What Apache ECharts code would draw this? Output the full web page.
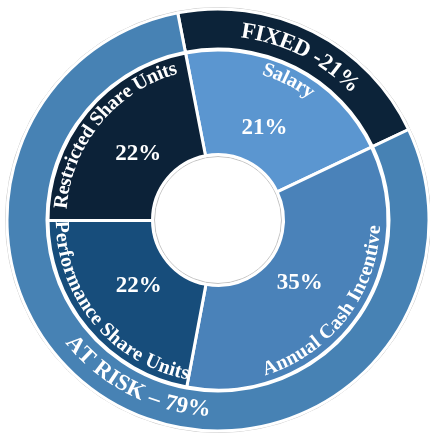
<!DOCTYPE html>
<html>
<head>
<meta charset="utf-8">
<script src="https://cdn.jsdelivr.net/npm/echarts@6/dist/echarts.min.js"></script>
<style>
  html, body { margin: 0; padding: 0; background: #ffffff; }
  #chart { width: 430px; height: 433px; }
</style>
</head>
<body>
<div id="chart"></div>
<script>
// Pay mix: inner ring by pay element, outer ring by fixed / at-risk grouping
const segments = ['Salary', 'Annual Cash Incentive', 'Performance Share Units', 'Restricted Share Units'];
const segmentShares = [21, 35, 22, 22];
const groups = ['FIXED', 'AT RISK'];
const groupShares = [21, 79];
const groupJoiners = [' -', ' – '];

const segmentColors = ['#5b96d0', '#4a82b9', '#174d7b', '#0c2238'];
const groupColors = ['#0c2339', '#4782b4'];

const CX = 218, CY = 220;
const START_ANGLE = 101;           // ECharts convention: degrees counterclockwise from 3 o'clock
const FIRST = 90 - START_ANGLE;    // same start, measured clockwise from 12 o'clock
const FONT = '"Liberation Serif", "Times New Roman", serif';

const measureCtx = document.createElement('canvas').getContext('2d');
function charWidths(chars, size) {
  measureCtx.font = 'bold ' + size + 'px ' + FONT;
  return chars.map(ch => measureCtx.measureText(ch).width);
}

// Lay a string out along a circle, one glyph per text element.
// mid: centre of the run, degrees clockwise from 12 o'clock; r: radius of glyph centres.
function arcText(text, mid, r, size, spacing) {
  const chars = Array.from(text);
  const widths = charWidths(chars, size);
  const total = widths.reduce((a, b) => a + b, 0) + spacing * (chars.length - 1);
  const span = total / r;
  const m = mid * Math.PI / 180;
  const upright = mid > 90 && mid < 270;   // lower half reads left-to-right with tops inward
  let offset = 0;
  return chars.map((ch, i) => {
    const along = offset + widths[i] / 2;
    offset += widths[i] + spacing;
    const a = upright ? m + span / 2 - along / r : m - span / 2 + along / r;
    const rot = upright ? a - Math.PI : a;
    return {
      type: 'text',
      x: CX + r * Math.sin(a),
      y: CY - r * Math.cos(a),
      rotation: -rot,
      silent: true,
      z: 10,
      style: {
        text: ch,
        fill: '#ffffff',
        font: 'bold ' + size + 'px ' + FONT,
        align: 'center', verticalAlign: 'middle',
        textAlign: 'center', textVerticalAlign: 'middle'
      }
    };
  });
}

function midAngles(values) {
  const total = values.reduce((a, b) => a + b, 0);
  let acc = 0;
  return values.map(v => {
    const mid = FIRST + 360 * (acc + v / 2) / total;
    acc += v;
    return mid;
  });
}

const segmentMids = midAngles(segmentShares);
const groupMids = midAngles(groupShares);

const labelElements = [];
segments.forEach((name, i) => {
  labelElements.push(...arcText(name, segmentMids[i], 157, 20, 0));
});
groups.forEach((name, i) => {
  labelElements.push(...arcText(name + groupJoiners[i] + groupShares[i] + '%', groupMids[i], 190, 23, 0));
});

const chart = echarts.init(document.getElementById('chart'), null, { renderer: 'canvas' });
chart.setOption({
  animation: false,
  backgroundColor: '#ffffff',
  graphic: {
    elements: [
      { type: 'circle', shape: { cx: CX, cy: CY, r: 212.5 }, silent: true, z: 0,
        style: { fill: 'none', stroke: '#c4c4c4', lineWidth: 1 } },
      { type: 'circle', shape: { cx: CX, cy: CY, r: 63.5 }, silent: true, z: 0,
        style: { fill: 'none', stroke: '#c4c4c4', lineWidth: 1 } },
      ...labelElements
    ]
  },
  series: [
    {
      type: 'pie',
      center: [CX, CY],
      radius: [65.5, 170],
      startAngle: START_ANGLE,
      clockwise: true,
      silent: true,
      avoidLabelOverlap: false,
      label: { show: false },
      labelLine: { show: false },
      itemStyle: { borderColor: '#ffffff', borderWidth: 3 },
      data: segments.map((name, i) => ({
        name, value: segmentShares[i], itemStyle: { color: segmentColors[i] }
      }))
    },
    {
      // transparent ring that carries the percentage labels
      type: 'pie',
      center: [CX, CY],
      radius: [65.5, 135],
      startAngle: START_ANGLE,
      clockwise: true,
      silent: true,
      z: 3,
      avoidLabelOverlap: false,
      labelLine: { show: false },
      itemStyle: { color: 'rgba(0,0,0,0)', borderWidth: 0 },
      label: {
        show: true,
        position: 'inside',
        formatter: '{c}%',
        color: '#ffffff',
        fontFamily: FONT,
        fontWeight: 'bold',
        fontSize: 23
      },
      data: segments.map((name, i) => ({ name, value: segmentShares[i] }))
    },
    {
      type: 'pie',
      center: [CX, CY],
      radius: [171, 211],
      startAngle: START_ANGLE,
      clockwise: true,
      silent: true,
      avoidLabelOverlap: false,
      label: { show: false },
      labelLine: { show: false },
      itemStyle: { borderColor: '#ffffff', borderWidth: 3 },
      data: groups.map((name, i) => ({
        name, value: groupShares[i], itemStyle: { color: groupColors[i] }
      }))
    }
  ]
});
</script>
</body>
</html>
